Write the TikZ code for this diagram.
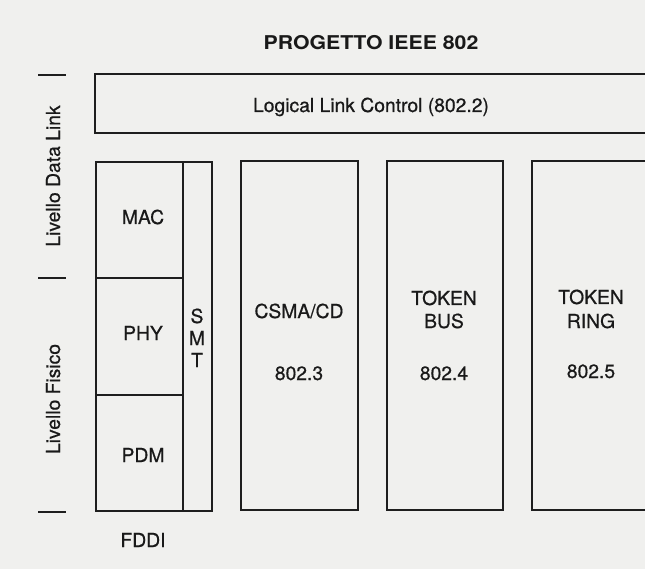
\documentclass[tikz,border=0pt]{standalone}
\usepackage{fontspec}
\setmainfont{TeX Gyre Heros}
\newfontfamily\lblfont{TeX Gyre Heros}[FakeBold=0.6]
\definecolor{bgpaper}{RGB}{240,240,238}
\definecolor{inkline}{RGB}{30,30,30}
\definecolor{inktext}{RGB}{25,25,25}
\begin{document}
\begin{tikzpicture}[x=1pt,y=-1pt,
  lbl/.style={anchor=base,inner sep=0pt,text=inktext,font=\lblfont\fontsize{19.3}{22}\selectfont},
  ttl/.style={anchor=base,inner sep=0pt,text=inktext,font=\bfseries\fontsize{19}{22}\selectfont},
  side/.style={lbl,rotate=90},
  boxline/.style={draw=inkline,line width=2pt},
  tick/.style={draw=inkline,line width=2.6pt}]
\useasboundingbox (0,0) rectangle (645,569);
\fill[bgpaper] (0,0) rectangle (645,569);
% title
\node[ttl] (title) at (371,50) {\scalebox{1.12}[1]{PROGETTO IEEE 802}};
% LLC box
\node[boxline,minimum width=555pt,minimum height=59pt,inner sep=0pt] (llc) at (372.5,103.5) {};
\node[lbl] (llct) at (371,112) {Logical Link Control (802.2)};
% FDDI
\node[boxline,minimum width=116pt,minimum height=349pt,inner sep=0pt] (fddi) at (154,336.5) {};
\coordinate (smtT) at (183,162);
\coordinate (smtB) at (183,511);
\draw[boxline] (smtT) -- (smtB);
\coordinate (d1l) at (96,278);
\coordinate (d1r) at (183,278);
\coordinate (d2l) at (96,395);
\coordinate (d2r) at (183,395);
\draw[boxline] (d1l) -- (d1r);
\draw[boxline] (d2l) -- (d2r);
\node[lbl] (mac) at (143,224) {MAC};
\node[lbl] (phy) at (143,340) {PHY};
\node[lbl] (pdm) at (143,462) {PDM};
\node[lbl] (s) at (197,323) {S};
\node[lbl] (m) at (197,345) {M};
\node[lbl] (t) at (197,367) {T};
\node[lbl] (fddit) at (143,547) {FDDI};
% CSMA/CD
\node[boxline,minimum width=117pt,minimum height=349pt,inner sep=0pt] (csma) at (299.5,335.5) {};
\node[lbl] (csmat) at (299,318) {CSMA/CD};
\node[lbl] (csman) at (299,380) {802.3};
% Token bus
\node[boxline,minimum width=116pt,minimum height=349pt,inner sep=0pt] (bus) at (445,335.5) {};
\node[lbl] (bust1) at (444,305) {TOKEN};
\node[lbl] (bust2) at (444,328) {BUS};
\node[lbl] (busn) at (444,380) {802.4};
% Token ring
\node[boxline,minimum width=117pt,minimum height=349pt,inner sep=0pt] (ring) at (590.5,335.5) {};
\node[lbl] (ringt1) at (591,304) {TOKEN};
\node[lbl] (ringt2) at (591,328) {RING};
\node[lbl] (ringn) at (591,378) {802.5};
% side labels and ticks
\draw[tick] (38,75) -- (66,75);
\draw[tick] (38,278) -- (66,278);
\draw[tick] (38,512) -- (66,512);
\node[side] (dl) at (60,176) {Livello Data Link};
\node[side] (fis) at (60,399) {Livello Fisico};
\end{tikzpicture}
\end{document}
